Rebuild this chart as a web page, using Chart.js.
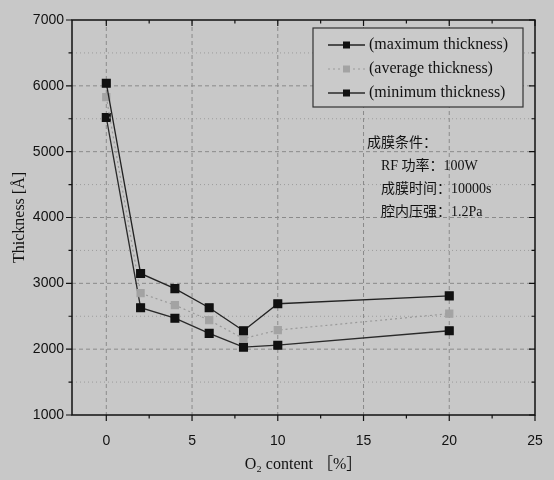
<!DOCTYPE html>
<html lang="zh-cn">
<head>
<meta charset="UTF-8">
<title>Thickness vs O2 content</title>
<script src="https://cdn.jsdelivr.net/npm/chart.js"></script>
<style>
    body { margin: 0; background: #c8c8c8; }
    #wrap { width: 554px; height: 480px; }
</style>
</head>
<body>
<div id="wrap">
    <canvas id="myChart" width="554" height="480"></canvas>
</div>
<script>
    // dados
    const oxygen = [0, 2, 4, 6, 8, 10, 20];
    const maxThickness = [6040, 3150, 2920, 2630, 2280, 2690, 2810];
    const avgThickness = [5830, 2850, 2670, 2440, 2160, 2290, 2540];
    const minThickness = [5520, 2630, 2470, 2240, 2030, 2060, 2280];
    const xTicks = [0, 5, 10, 15, 20, 25];
    const yTicks = [1000, 2000, 3000, 4000, 5000, 6000, 7000];
    const seriesLabels = ['(maximum thickness)', '(average thickness)', '(minimum thickness)'];
    const notes = ['成膜条件：', 'RF 功率：100W', '成膜时间：10000s', '腔内压强：1.2Pa'];

    const serif = '"Liberation Serif", "Noto Sans CJK SC", serif';
    const sans = '"Liberation Sans", Arial, sans-serif';

    function pontos(ys) {
        return oxygen.map((x, i) => ({ x: x, y: ys[i] }));
    }

    const molduraPlugin = {
        id: 'moldura',
        beforeDraw(chart) {
            const c = chart.ctx;
            c.save();
            c.fillStyle = '#c8c8c8';
            c.fillRect(0, 0, chart.width, chart.height);
            c.restore();
        },
        beforeDatasetsDraw(chart) {
            const c = chart.ctx;
            const a = chart.chartArea;
            const xs = chart.scales.x;
            const ys = chart.scales.y;
            c.save();
            // grade horizontal
            for (let v = 1500; v < 7000; v += 500) {
                const py = ys.getPixelForValue(v);
                c.beginPath();
                if (v % 1000 === 0) {
                    c.strokeStyle = '#8a8a8a';
                    c.setLineDash([4, 3]);
                } else {
                    c.strokeStyle = '#9c9c9c';
                    c.setLineDash([1, 3]);
                }
                c.lineWidth = 1;
                c.moveTo(a.left, py);
                c.lineTo(a.right, py);
                c.stroke();
            }
            // grade vertical
            c.strokeStyle = '#8a8a8a';
            c.setLineDash([4, 3]);
            for (let v = 0; v < 25; v += 5) {
                const px = xs.getPixelForValue(v);
                c.beginPath();
                c.moveTo(px, a.top);
                c.lineTo(px, a.bottom);
                c.stroke();
            }
            c.restore();
        },
        afterDraw(chart) {
            const c = chart.ctx;
            const a = chart.chartArea;
            const xs = chart.scales.x;
            const ys = chart.scales.y;
            c.save();
            c.strokeStyle = '#111';
            c.lineWidth = 1.5;
            c.setLineDash([]);
            c.strokeRect(a.left, a.top, a.right - a.left, a.bottom - a.top);

            // ticks do eixo x (fora embaixo, dentro em cima)
            c.lineWidth = 1.2;
            c.beginPath();
            for (let v = 0; v <= 25; v += 2.5) {
                const px = xs.getPixelForValue(v);
                const len = v % 5 === 0 ? 6 : 3.5;
                c.moveTo(px, a.bottom);
                c.lineTo(px, a.bottom + len);
                c.moveTo(px, a.top);
                c.lineTo(px, a.top + len);
            }
            // ticks do eixo y
            for (let v = 1000; v <= 7000; v += 500) {
                const py = ys.getPixelForValue(v);
                const len = v % 1000 === 0 ? 6 : 3.5;
                c.moveTo(a.left, py);
                c.lineTo(a.left - len, py);
                c.moveTo(a.right, py);
                c.lineTo(a.right - len, py);
            }
            c.stroke();

            // legenda
            const lx = 313, ly = 28, lw = 210, lh = 79;
            c.fillStyle = '#cacaca';
            c.fillRect(lx, ly, lw, lh);
            c.strokeStyle = '#333';
            c.lineWidth = 1.2;
            c.strokeRect(lx, ly, lw, lh);
            c.font = '16px ' + serif;
            c.textBaseline = 'middle';
            c.textAlign = 'left';
            chart.data.datasets.forEach((ds, i) => {
                const yy = ly + 17 + i * 24;
                c.strokeStyle = ds.borderColor;
                c.lineWidth = ds.borderWidth;
                c.setLineDash(ds.borderDash || []);
                c.beginPath();
                c.moveTo(328, yy);
                c.lineTo(365, yy);
                c.stroke();
                c.setLineDash([]);
                c.fillStyle = ds.pointBackgroundColor;
                c.fillRect(343, yy - 3.5, 7, 7);
                c.fillStyle = '#111';
                c.fillText(ds.label, 369, yy);
            });

            // condições
            c.font = '14px ' + serif;
            c.fillStyle = '#111';
            notes.forEach((t, i) => {
                const nx = i === 0 ? 367 : 381;
                c.fillText(t, nx, 143 + i * 23);
            });
            c.restore();
        }
    };

    const ctx = document.getElementById('myChart');

    const myChart = new Chart(ctx, {
        type: 'line',
        data: {
            datasets: [
                {
                    label: seriesLabels[0],
                    data: pontos(maxThickness),
                    borderColor: '#222',
                    borderWidth: 1.3,
                    pointStyle: 'rect',
                    pointRadius: 5.5,
                    pointBackgroundColor: '#111',
                    pointBorderColor: '#111',
                    tension: 0
                },
                {
                    label: seriesLabels[1],
                    data: pontos(avgThickness),
                    borderColor: '#999',
                    borderWidth: 1.2,
                    borderDash: [2, 3],
                    pointStyle: 'rect',
                    pointRadius: 5,
                    pointBackgroundColor: '#a3a3a3',
                    pointBorderColor: '#a3a3a3',
                    tension: 0
                },
                {
                    label: seriesLabels[2],
                    data: pontos(minThickness),
                    borderColor: '#2a2a2a',
                    borderWidth: 1.3,
                    pointStyle: 'rect',
                    pointRadius: 5.5,
                    pointBackgroundColor: '#111',
                    pointBorderColor: '#111',
                    tension: 0
                }
            ]
        },
        options: {
            responsive: false,
            animation: false,
            layout: {
                padding: { top: 20, right: 19, left: 10, bottom: 0 }
            },
            plugins: {
                legend: { display: false },
                tooltip: { enabled: false }
            },
            scales: {
                x: {
                    type: 'linear',
                    min: -2,
                    max: 25,
                    afterBuildTicks: (s) => { s.ticks = xTicks.map(v => ({ value: v })); },
                    afterFit: (s) => {
                        s.height = 65;
                        s.paddingLeft = 0;
                        s.paddingRight = 0;
                    },
                    grid: { display: false, drawTicks: false },
                    border: { display: false },
                    ticks: {
                        padding: 18,
                        color: '#111',
                        font: { family: sans, size: 14 }
                    },
                    title: {
                        display: true,
                        text: 'O₂ content ［%］',
                        color: '#111',
                        font: { family: serif, size: 16 },
                        padding: { top: 0, bottom: 6 }
                    }
                },
                y: {
                    min: 1000,
                    max: 7000,
                    afterBuildTicks: (s) => { s.ticks = yTicks.map(v => ({ value: v })); },
                    afterFit: (s) => {
                        s.width = 62;
                        s.paddingTop = 0;
                        s.paddingBottom = 0;
                    },
                    grid: { display: false, drawTicks: false },
                    border: { display: false },
                    ticks: {
                        padding: 8,
                        color: '#111',
                        font: { family: sans, size: 14 },
                        callback: (v) => String(v)
                    },
                    title: {
                        display: true,
                        text: 'Thickness [Å]',
                        color: '#111',
                        font: { family: serif, size: 16 },
                        padding: { top: 0, bottom: 0 }
                    }
                }
            }
        },
        plugins: [molduraPlugin]
    });
</script>
</body>
</html>
